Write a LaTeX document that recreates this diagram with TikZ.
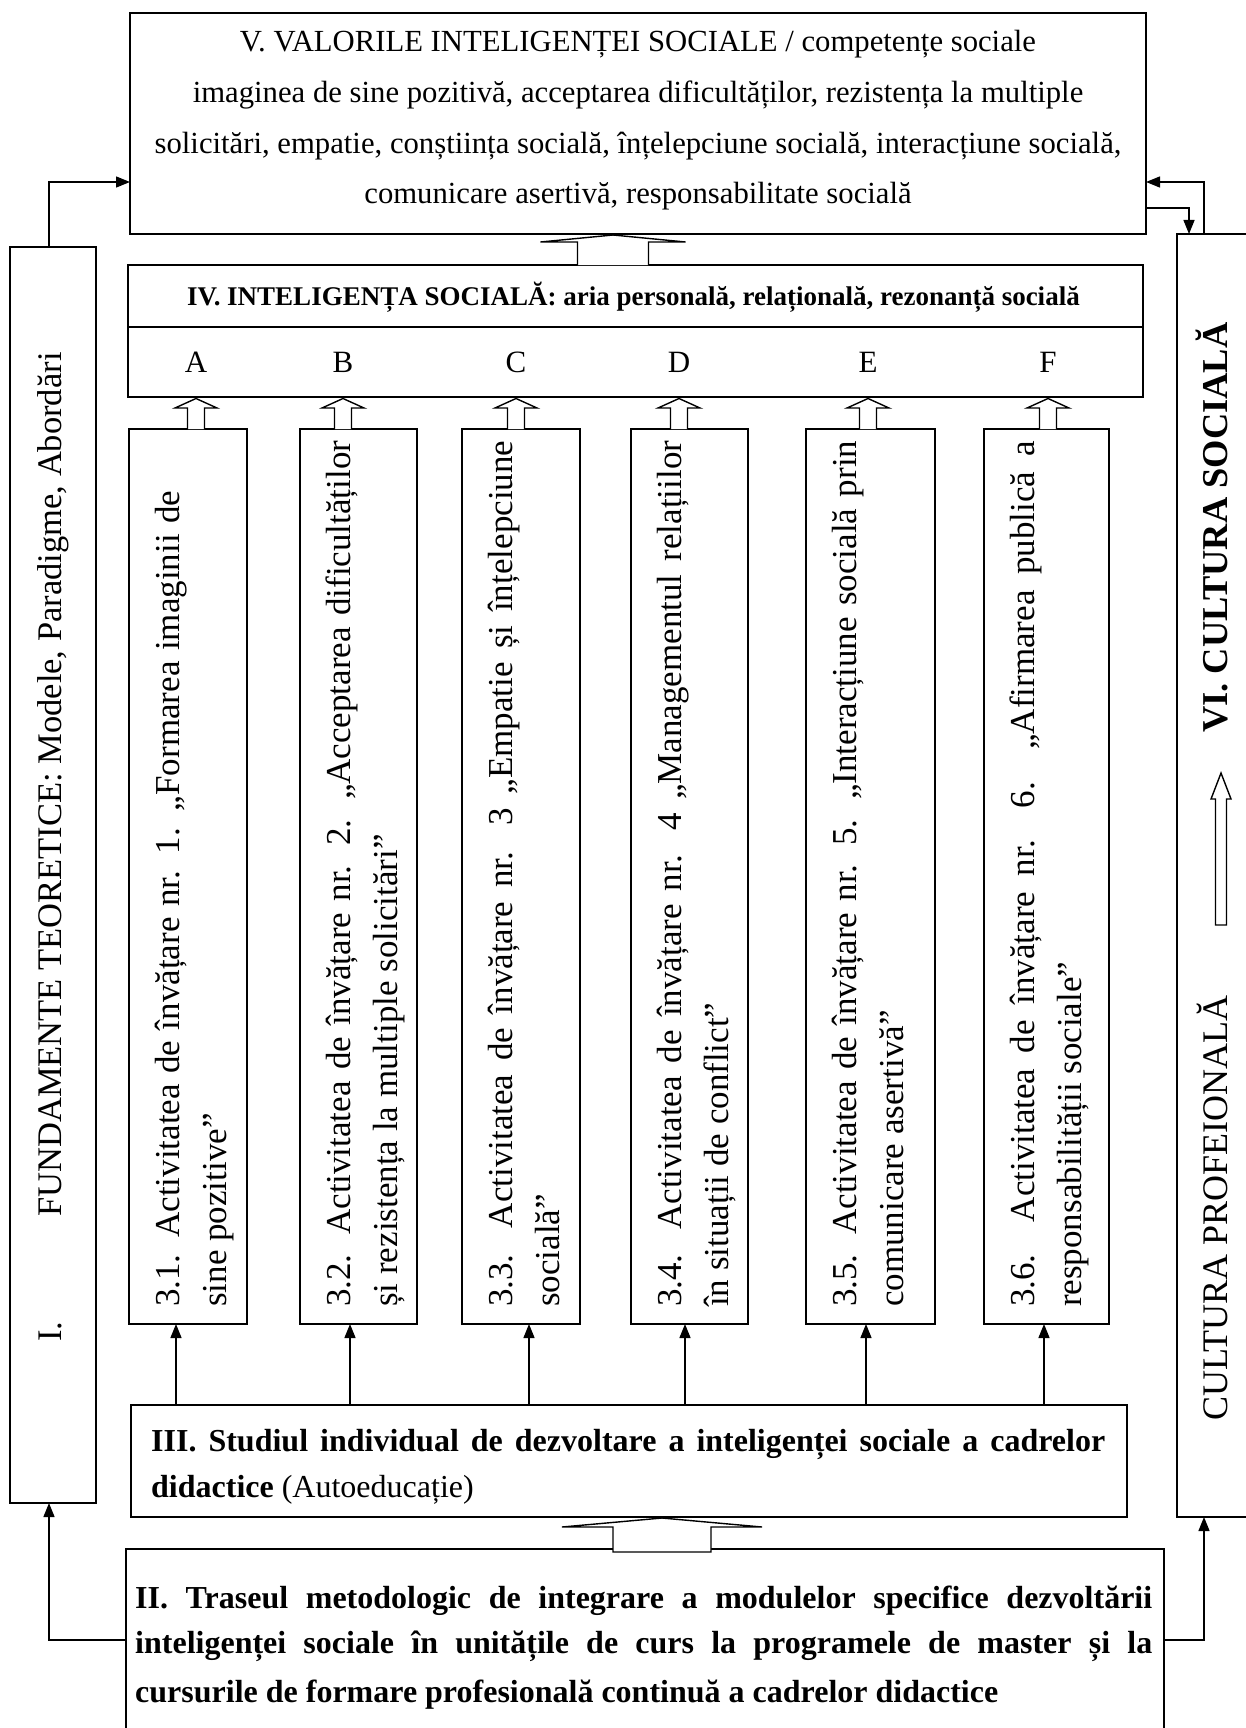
\documentclass[tikz,border=0pt]{standalone}
\usepackage{fontspec}
\setmainfont{Liberation Serif}
\usetikzlibrary{arrows.meta,calc}
\newcommand{\fs}[1]{\fontsize{#1}{#1}\selectfont}
\begin{document}
\begin{tikzpicture}[x=1pt,y=-1pt,
  box/.style={draw,line width=1.7pt,inner sep=0pt,outer sep=0pt},
  txt/.style={inner sep=0pt,anchor=base},
  ltxt/.style={inner sep=0pt,anchor=base west},
  rtxt/.style={inner sep=0pt,anchor=base west,rotate=90},
  acttxt/.style={rtxt,font=\fs{35}},
  conn/.style={line width=1.4pt,-{Triangle[length=14pt,width=11pt]}},
  blk/.style={line width=1.4pt,fill=white}]
\useasboundingbox (0,0) rectangle (1246,1728);
\clip (0,0) rectangle (1246,1728);
\fill[white] (0,0) rectangle (1246,1728);

% ---------- boxes ----------
\node[box,minimum width=1016pt,minimum height=221pt] (boxV) at (638,123.5) {};
\node[box,minimum width=1015pt,minimum height=132pt] (boxIV) at (635.5,331) {};
\coordinate (divy) at (0,327);
\draw[line width=1.7pt] (boxIV.west |- divy) -- (boxIV.east |- divy);
\node[box,minimum width=118pt,minimum height=895pt] (act1) at (188,876.5) {};
\node[box,minimum width=117pt,minimum height=895pt] (act2) at (358.5,876.5) {};
\node[box,minimum width=118pt,minimum height=895pt] (act3) at (521,876.5) {};
\node[box,minimum width=117pt,minimum height=895pt] (act4) at (689.5,876.5) {};
\node[box,minimum width=129pt,minimum height=895pt] (act5) at (870.5,876.5) {};
\node[box,minimum width=125pt,minimum height=895pt] (act6) at (1046.5,876.5) {};
\node[box,minimum width=86pt,minimum height=1256pt] (boxI) at (53,875) {};
\node[box,minimum width=73pt,minimum height=1283pt] (boxVI) at (1213.5,875.5) {};
\node[box,minimum width=996pt,minimum height=112pt] (boxIII) at (629,1461) {};
\node[box,minimum width=1038pt,minimum height=190pt] (boxII) at (645,1644) {};

% ---------- texts ----------
\node[txt,font=\fs{30.7}] (v1) at (638,52) {V. VALORILE INTELIGENȚEI SOCIALE / competențe sociale};
\node[txt,font=\fs{30.7}] (v2) at (638,102.7) {imaginea de sine pozitivă, acceptarea dificultăților, rezistența la multiple};
\node[txt,font=\fs{30.7}] (v3) at (638,153.3) {solicitări, empatie, conștiința socială, înțelepciune socială, interacțiune socială,};
\node[txt,font=\fs{30.7}] (v4) at (638,204) {comunicare asertivă, responsabilitate socială};

\node[txt,font=\fs{27}\bfseries] (iv) at (633.5,305) {IV. INTELIGENȚA SOCIALĂ: aria personală, relațională, rezonanță socială};
\node[txt,font=\fs{31}] (lA) at (196,372) {A};
\node[txt,font=\fs{31}] (lB) at (343,372) {B};
\node[txt,font=\fs{31}] (lC) at (516,372) {C};
\node[txt,font=\fs{31}] (lD) at (679,372) {D};
\node[txt,font=\fs{31}] (lE) at (868,372) {E};
\node[txt,font=\fs{31}] (lF) at (1048,372) {F};

\node[acttxt] (t1a) at (179,1307) {\makebox[816pt][s]{3.1. Activitatea de învățare nr. 1. „Formarea imaginii de}};
\node[acttxt] (t1b) at (226.5,1307) {sine pozitive”};
\node[acttxt] (t2a) at (350,1307) {\makebox[866pt][s]{3.2. Activitatea de învățare nr. 2. „Acceptarea dificultăților}};
\node[acttxt] (t2b) at (397.5,1307) {și rezistența la multiple solicitări”};
\node[acttxt] (t3a) at (512,1307) {\makebox[866pt][s]{3.3. Activitatea de învățare nr. 3 „Empatie și înțelepciune}};
\node[acttxt] (t3b) at (559.5,1307) {socială”};
\node[acttxt] (t4a) at (681,1307) {\makebox[866pt][s]{3.4. Activitatea de învățare nr. 4 „Managementul relațiilor}};
\node[acttxt] (t4b) at (728.5,1307) {în situații de conflict”};
\node[acttxt] (t5a) at (856,1307) {\makebox[866pt][s]{3.5. Activitatea de învățare nr. 5. „Interacțiune socială prin}};
\node[acttxt] (t5b) at (903.5,1307) {comunicare asertivă”};
\node[acttxt] (t6a) at (1034,1307) {\makebox[866pt][s]{3.6. Activitatea de învățare nr. 6. „Afirmarea publică a}};
\node[acttxt] (t6b) at (1081.5,1307) {responsabilității sociale”};

\node[rtxt,font=\fs{34.5}] (ti) at (61,1342) {I.\hspace{105pt}FUNDAMENTE TEORETICE: Modele, Paradigme, Abordări};
\node[rtxt,font=\fs{36.4}\bfseries] (tvi) at (1227,733) {VI. CULTURA SOCIALĂ};
\node[rtxt,font=\fs{36}] (tcp) at (1227,1421) {CULTURA PROFEIONALĂ};

\node[ltxt,font=\fs{32}] (t3l1) at (151,1451) {\makebox[954pt][s]{\bfseries III. Studiul individual de dezvoltare a inteligenței sociale a cadrelor}};
\node[ltxt,font=\fs{32}] (t3l2) at (151,1497) {\textbf{didactice} (Autoeducație)};
\node[ltxt,font=\fs{32}\bfseries] (t2l1) at (135,1608) {\makebox[1017pt][s]{II. Traseul metodologic de integrare a modulelor specifice dezvoltării}};
\node[ltxt,font=\fs{32}\bfseries] (t2l2) at (135,1653) {\makebox[1017pt][s]{inteligenței sociale în unitățile de curs la programele de master și la}};
\node[ltxt,font=\fs{32}\bfseries] (t2l3) at (135,1702) {cursurile de formare profesională continuă a cadrelor didactice};

% ---------- thin connectors ----------
\coordinate (cTL) at (49,182);
\coordinate (cR1) at (1204,182);
\coordinate (cR2) at (1189,208);
\coordinate (cBL) at (49,1640);
\coordinate (cBR) at (1204,1640);
\draw[conn] (boxI.north -| cTL) -- (cTL) -- (boxV.west |- cTL);
\draw[conn] (boxVI.north -| cR1) -- (cR1) -- (boxV.east |- cR1);
\draw[conn] (boxV.east |- cR2) -- (cR2) -- (boxVI.north -| cR2);
\draw[conn] (boxII.west |- cBL) -- (cBL) -- (boxI.south -| cBL);
\draw[conn] (boxII.east |- cBR) -- (cBR) -- (boxVI.south -| cBR);
\foreach \i/\xx in {1/176,2/350,3/529,4/685,5/866,6/1044}{
  \coordinate (ba\i) at (\xx,0);
  \draw[conn] (boxIII.north -| ba\i) -- (act\i.south -| ba\i);
}

% ---------- block arrows ----------
\foreach \i/\xx in {1/196,2/343,3/516,4/679,5/868,6/1048}{
  \coordinate (ua\i) at (\xx,0);
  \draw[blk] ($(act\i.north -| ua\i)+(-8.5,0)$) -- ($(boxIV.south -| ua\i)+(-8.5,11)$)
    -- ($(boxIV.south -| ua\i)+(-21,11)$) -- ($(boxIV.south -| ua\i)+(0,1.5)$)
    -- ($(boxIV.south -| ua\i)+(21,11)$) -- ($(boxIV.south -| ua\i)+(8.5,11)$)
    -- ($(act\i.north -| ua\i)+(8.5,0)$);
}
\coordinate (uT) at (613,0);
\draw[blk] ($(boxIV.north -| uT)+(-35.5,0)$) -- ($(boxV.south -| uT)+(-35.5,8)$)
  -- ($(boxV.south -| uT)+(-72.5,8)$) -- ($(boxV.south -| uT)+(0,1)$)
  -- ($(boxV.south -| uT)+(72.5,8)$) -- ($(boxV.south -| uT)+(35.5,8)$)
  -- ($(boxIV.north -| uT)+(35.5,0)$);
\coordinate (uB) at (662,0);
\draw[blk] ($(boxII.north -| uB)+(-49,3)$) -- ($(boxIII.south -| uB)+(-49,10)$)
  -- ($(boxIII.south -| uB)+(-100,10)$) -- ($(boxIII.south -| uB)+(0,1)$)
  -- ($(boxIII.south -| uB)+(100,10)$) -- ($(boxIII.south -| uB)+(49,10)$)
  -- ($(boxII.north -| uB)+(49,3)$) -- cycle;
\coordinate (uV1) at (1221,773);
\coordinate (uV2) at (1221,925);
\draw[blk] ($(uV2)+(-5.5,0)$) -- ($(uV1)+(-5.5,26)$) -- ($(uV1)+(-10,26)$) -- (uV1)
  -- ($(uV1)+(10,26)$) -- ($(uV1)+(5.5,26)$) -- ($(uV2)+(5.5,0)$) -- cycle;
\end{tikzpicture}
\end{document}
